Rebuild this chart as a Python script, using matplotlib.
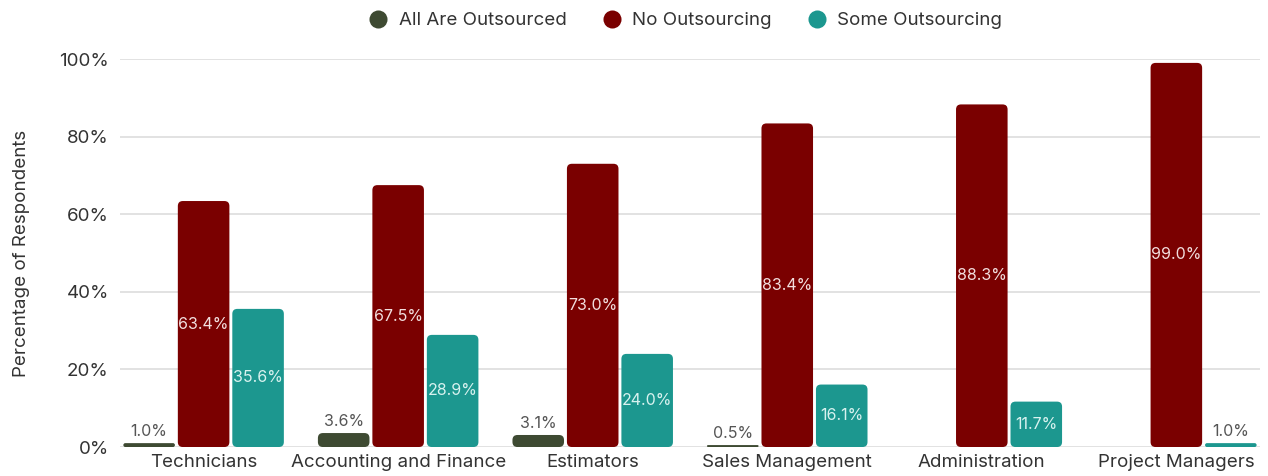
import numpy as np
import matplotlib
matplotlib.use("Agg")
import matplotlib.pyplot as plt
from matplotlib.patches import FancyBboxPatch
from matplotlib.lines import Line2D

plt.rcParams['font.family'] = ['Inter', 'DejaVu Sans']

categories = ['Technicians', 'Accounting and Finance', 'Estimators',
              'Sales Management', 'Administration', 'Project Managers']
series_names = ['All Are Outsourced', 'No Outsourcing', 'Some Outsourcing']
all_outsourced = [1.0, 3.6, 3.1, 0.5, None, None]
no_outsourcing = [63.4, 67.5, 73.0, 83.4, 88.3, 99.0]
some_outsourcing = [35.6, 28.9, 24.0, 16.1, 11.7, 1.0]
yticks = [0, 20, 40, 60, 80, 100]

colors = ['#3e4a32', '#7a0000', '#1c978f']
label_colors = ['#555555', '#f2dede', '#d8f2ef']

fig = plt.figure(figsize=(12.68, 4.76), dpi=100)
ax = fig.add_axes([0.0946, 0.0609, 0.8991, 0.8151])

x = np.arange(len(categories))
width = 0.265
offsets = [-0.28, 0.0, 0.28]
px_per_x = 194.6
px_per_y = 3.88
radius_px = 5.0

for series, off, col, lcol in zip([all_outsourced, no_outsourcing, some_outsourcing],
                                  offsets, colors, label_colors):
    for xi, v in zip(x, series):
        if v is None:
            continue
        left = xi + off - width / 2
        r_px = min(radius_px, v * px_per_y / 2)
        rx = r_px / px_per_x
        patch = FancyBboxPatch((left + rx, 0 + rx * px_per_x / px_per_y),
                               width - 2 * rx, v - 2 * rx * px_per_x / px_per_y,
                               boxstyle=f"round,pad={rx},rounding_size={rx}",
                               mutation_aspect=px_per_x / px_per_y,
                               facecolor=col, edgecolor='none', zorder=3)
        ax.add_patch(patch)
        # small bars get their label above, tall ones in the middle
        if v < 5:
            ax.text(xi + off, v + 1.0, f"{v:.1f}%", ha='center', va='bottom',
                    fontsize=11.5, color='#555555', zorder=4)
        else:
            ax.text(xi + off, v / 2, f"{v:.1f}%", ha='center', va='center',
                    fontsize=11.5, color=lcol, zorder=4)

ax.set_xlim(-0.43, len(categories) - 1 + 0.43)
ax.set_ylim(0, 100)
ax.set_yticks(yticks)
ax.set_yticklabels([f"{t}%" for t in yticks])
ax.set_xticks(x)
ax.set_xticklabels(categories)
ax.tick_params(axis='both', length=0, labelsize=13.5, colors='#333333')
ax.tick_params(axis='y', pad=8)
ax.tick_params(axis='x', pad=5)
ax.grid(axis='y', color='#dddddd', linewidth=1.2, zorder=0)
for s in ax.spines.values():
    s.set_visible(False)
ax.set_ylabel('Percentage of Respondents', fontsize=13.5, color='#333333')
ax.yaxis.set_label_coords(-0.079, 0.5)

handles = [Line2D([0], [0], marker='o', linestyle='none', markersize=13,
                  markerfacecolor=c, markeredgecolor='none') for c in colors]
fig.legend(handles, series_names, loc='upper center', bbox_to_anchor=(0.537, 1.01),
           ncol=3, frameon=False, fontsize=13.5, handletextpad=0.1, columnspacing=1.4,
           labelcolor='#333333')

fig.savefig('out.png', dpi=100)
